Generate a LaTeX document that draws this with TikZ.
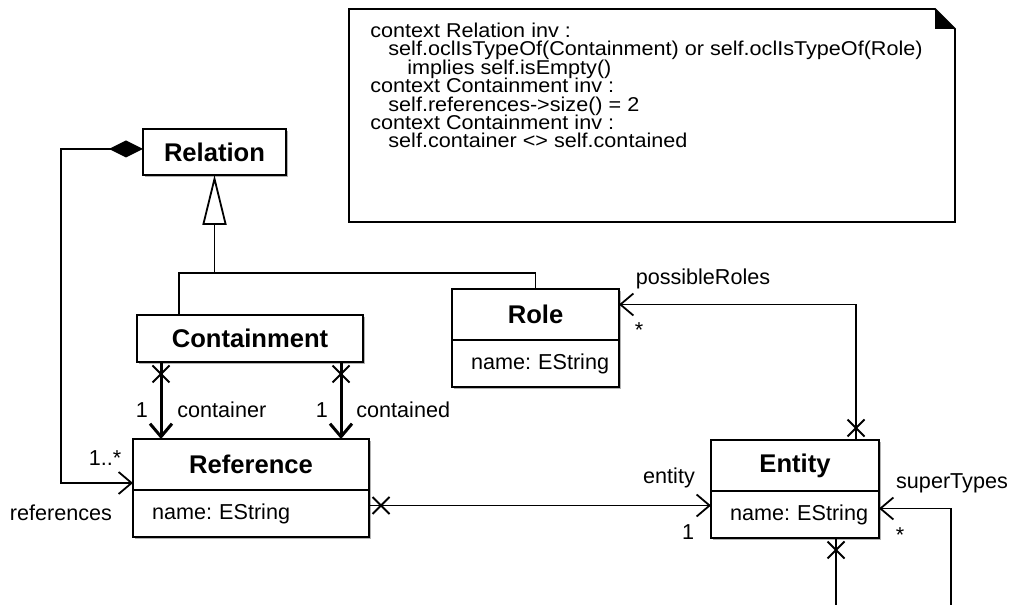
\documentclass[tikz,border=0pt]{standalone}
\usepackage{fontspec}
\setmainfont{Liberation Sans}
\newfontfamily\notefont{Liberation Sans}[FakeStretch=1.08]
\usetikzlibrary{arrows.meta,decorations.markings,positioning,shadows,calc}

\tikzset{
    cls/.style={draw, line width=0.9pt, fill=white, minimum width=#1, minimum height=25.5pt, inner sep=0pt, outer sep=0pt, font=\bfseries\fontsize{12.8}{15}\selectfont, drop shadow={shadow xshift=1.1pt, shadow yshift=-1.1pt, fill=gray!60, opacity=1}},
    attr/.style={draw, line width=0.9pt, fill=white, text width=#1, minimum height=23.5pt, inner sep=0pt, outer sep=0pt, align=left, execute at begin node={\hspace*{9.5pt}}, font=\fontsize{10.8}{13}\selectfont\frenchspacing, drop shadow={shadow xshift=1.1pt, shadow yshift=-1.1pt, fill=gray!60, opacity=1}},
    lbl/.style={font=\fontsize{10.8}{13}\selectfont, inner sep=0pt},
    assoc/.style={line width=0.9pt, -{Straight Barb[length=6.5pt,width=11pt]}},
    xend/.style={postaction={decorate, decoration={markings, mark=at position 6pt with {\draw[-, line width=0.9pt] (-4.25pt,-4.25pt) -- (4.25pt,4.25pt) (-4.25pt,4.25pt) -- (4.25pt,-4.25pt);}}}},
}

\begin{document}
\begin{tikzpicture}[x=0.5pt,y=0.5pt]
\useasboundingbox (0,0) rectangle (1012,605);

% OCL note
\draw [line width=0.9pt] (349,596) -- (935,596) -- (955,576) -- (955,383) -- (349,383) -- cycle;
\fill (935,596) -- (935,576) -- (955,576) -- cycle;
\node [lbl, anchor=base west, align=left, font={\notefont\fontsize{10}{9.2}\selectfont\frenchspacing\lineskiplimit=-20pt}] (ocl) at (370,457) {context Relation inv :\\
\hspace*{9pt}self.oclIsTypeOf(Containment) or self.oclIsTypeOf(Role)\\
\hspace*{18.5pt}implies self.isEmpty()\\
context Containment inv :\\
\hspace*{9pt}self.references->size() = 2\\
context Containment inv :\\
\hspace*{9pt}self.container <> self.contained};

% classes
\node [cls=71.5pt, minimum height=23pt, anchor=north west] (rel) at (143,476) {Relation};
\node [cls=113pt, minimum height=23.5pt, anchor=north west] (cont) at (137,290) {Containment};
\node [cls=118pt, anchor=north west] (refn) at (133,166) {Reference};
\node [attr=118pt, below=0pt of refn] (refa) {name: EString};
\node [cls=83.5pt, anchor=north west] (rolen) at (452,316) {Role};
\node [attr=83.5pt, below=0pt of rolen] (rolea) {name: EString};
\node [cls=84pt, anchor=north west] (entn) at (711,165) {Entity};
\node [attr=84pt, below=0pt of entn] (enta) {name: EString};

% composition
\draw [line width=0.9pt, {Diamond[length=17pt,width=8.5pt]}-{Straight Barb[length=6.5pt,width=11pt]}] ($(rel.west)+(0,3)$) -| ($(refn.south west)+(-72,7)$) -- ($(refn.south west)+(0,7)$);
\node [lbl] (refm) at (105,147) {1..*};
\node [lbl] (refr) at (61,92) {references};

% generalization
\coordinate (gj) at ($(rel.south)+(0,-98)$);
\draw [line width=0.9pt, -{Triangle[open,length=25pt,width=12pt,fill=white]}] (gj) -- (rel.south);
\draw [line width=0.9pt] ($(cont.north west)+(42,0)$) |- (gj) -| (rolen.north);

% container / contained
\coordinate (cc) at ($(cont.south west)+(24,0)$);
\coordinate (cd) at ($(cont.south west)+(204,0)$);
\draw [assoc, line width=1.5pt, xend] (cc) -- (cc |- refn.north);
\draw [assoc, line width=1.5pt, xend] (cd) -- (cd |- refn.north);
\node [lbl] (cm) at (142,195) {1};
\node [lbl, anchor=west] (cn) at (177,195) {container};
\node [lbl] (dm) at (322,195) {1};
\node [lbl, anchor=west] (dn) at (356,195) {contained};

% entity
\coordinate (re) at ($(refa.east)+(0,8)$);
\draw [assoc, xend] (re) -- (re -| enta.west);
\node [lbl] (en) at (669,127) {entity};
\node [lbl] (em) at (688,73) {1};

% possibleRoles
\coordinate (ep) at ($(entn.north west)+(145,0)$);
\draw [assoc, xend] (ep) |- ($(rolen.east)+(0,10)$);
\node [lbl] (pr) at (703,326) {possibleRoles};
\node [lbl] (pm) at (639,275) {*};

% superTypes
\coordinate (sb) at (951,0);
\draw [assoc] (sb) |- ($(enta.east)+(0,6)$);
\node [lbl] (st) at (952,122) {superTypes};
\node [lbl] (sm) at (900,70) {*};

\coordinate (eb) at ($(enta.south west)+(125,0)$);
\draw [line width=0.9pt, xend] (eb) -- (eb |- sb);

\end{tikzpicture}
\end{document}
